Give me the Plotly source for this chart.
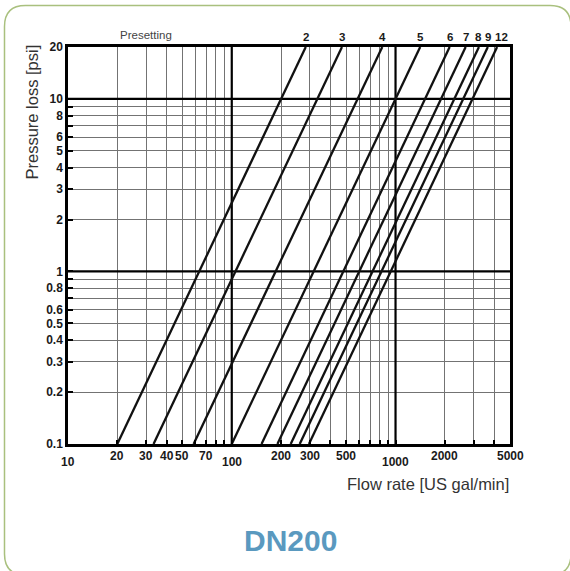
import numpy as np
import plotly.graph_objs as go

# presetting curves: flow rate at 0.1 psi and at 20 psi
presettings = ["2", "3", "4", "5", "6", "7", "8", "9", "12"]
flow_at_min = [20, 33.3, 58.5, 100, 152, 190, 229, 260, 296]
flow_at_max = [283, 471, 830, 1414, 2140, 2680, 3230, 3660, 4170]
p_min, p_max = 0.1, 20
q_min, q_max = 10, 5000

grid_x = [20, 30, 40, 50, 60, 70, 80, 90, 100, 200, 300, 400, 500, 600, 700, 800, 900, 1000,
          2000, 3000, 4000]
major_x = [100, 1000]
grid_y = [0.1, 0.2, 0.3, 0.4, 0.5, 0.6, 0.7, 0.8, 0.9, 1, 2, 3, 4, 5, 6, 7, 8, 9, 10, 20]
y_labels = ["0.1", "0.2", "0.3", "0.4", "0.5", "0.6", "", "0.8", "", "1",
            "2", "3", "4", "5", "6", "", "8", "", "10", "20"]
major_y = [1, 10]
x_labels = [10, 20, 30, 40, 50, 70, 100, 200, 300, 500, 1000, 2000, 5000]
x_low = [10, 100, 1000]   # these labels sit a bit lower

W, H = 570, 571
ML, MR, MT, MB = 68, 60, 47, 127
PW, PH = W - ML - MR, H - MT - MB

fig = go.Figure()

# heavy grid lines
for v in major_x:
    fig.add_trace(go.Scatter(x=[v, v], y=[p_min, p_max], mode="lines",
                             line=dict(color="black", width=2.2), hoverinfo="skip"))
for v in major_y:
    fig.add_trace(go.Scatter(x=[q_min, q_max], y=[v, v], mode="lines",
                             line=dict(color="black", width=2.2), hoverinfo="skip"))

for name, q0, q1 in zip(presettings, flow_at_min, flow_at_max):
    fig.add_trace(go.Scatter(x=[q0, q1], y=[p_min, p_max], mode="lines", name=name,
                             line=dict(color="#111111", width=2.3)))

lbl_font = dict(family="Liberation Sans", size=12, color="#1a1a1a", weight="bold")

annotations = []
for name, q1 in zip(presettings, flow_at_max):
    annotations.append(dict(x=np.log10(q1), y=1, xref="x", yref="paper", text=name,
                            showarrow=False, xanchor="center", yanchor="bottom", yshift=2,
                            xshift=4 if name == "12" else 0,
                            font=dict(family="Liberation Sans", size=11.5, color="#1a1a1a",
                                      weight="bold")))
for v in x_labels:
    annotations.append(dict(x=np.log10(v), y=0, xref="x", yref="paper", text=str(v),
                            showarrow=False, xanchor="center", yanchor="top",
                            yshift=-9 if v in x_low else -3, font=lbl_font))


def px(x, y):
    return (x - ML) / PW, (H - MB - y) / PH


def label(x, y, text, **kw):
    a, b = px(x, y)
    return dict(x=a, y=b, xref="paper", yref="paper", text=text, showarrow=False,
                xanchor="center", yanchor="middle", **kw)


annotations += [
    label(146, 35, "Presetting",
          font=dict(family="Liberation Sans", size=11.5, color="#444444")),
    label(31.5, 112, "Pressure loss [psi]", textangle=-90,
          font=dict(family="Liberation Sans", size=16.5, color="#333333")),
    label(428, 484, "Flow rate [US gal/min]",
          font=dict(family="Liberation Sans", size=16.5, color="#333333")),
    label(290, 540, "<b>DN200</b>",
          font=dict(family="Liberation Sans", size=30, color="#5a99bf")),
]

# rounded frame around the whole picture
x0, x1, y0, y1, r = 4.5, 571, 5.5, 575, 21
pts = [("M", x0, y0 + r), ("Q", x0, y0, x0 + r, y0), ("L", x1 - r, y0),
       ("Q", x1, y0, x1, y0 + r), ("L", x1, y1 - r), ("Q", x1, y1, x1 - r, y1),
       ("L", x0 + r, y1), ("Q", x0, y1, x0, y1 - r)]
path = ""
for p in pts:
    cmd, coords = p[0], p[1:]
    s = []
    for i in range(0, len(coords), 2):
        a, b = px(coords[i], coords[i + 1])
        s.append(f"{a:.5f},{b:.5f}")
    path += cmd + " ".join(s) + " "
path += "Z"

fig.update_layout(
    width=W, height=H,
    margin=dict(l=ML, r=MR, t=MT, b=MB),
    paper_bgcolor="white", plot_bgcolor="white",
    showlegend=False,
    annotations=annotations,
    shapes=[dict(type="path", path=path, xref="paper", yref="paper",
                 line=dict(color="#a9c07e", width=1.5), layer="below")],
)
fig.update_xaxes(type="log", range=[np.log10(q_min), np.log10(q_max)],
                 tickvals=grid_x, showticklabels=False,
                 showgrid=True, gridcolor="#737373", gridwidth=1,
                 ticks="inside", ticklen=4, tickwidth=2, tickcolor="black",
                 showline=True, linecolor="black", linewidth=2.5, mirror=True,
                 zeroline=False)
fig.update_yaxes(type="log", range=[np.log10(p_min), np.log10(p_max)],
                 tickvals=grid_y, ticktext=y_labels, tickfont=lbl_font,
                 showgrid=True, gridcolor="#737373", gridwidth=1,
                 ticks="inside", ticklen=5, tickwidth=2, tickcolor="black",
                 showline=True, linecolor="black", linewidth=2.5, mirror=True,
                 zeroline=False)

fig.write_html("out.html", config={"displayModeBar": False},
               post_script="document.body.style.margin='0';")
